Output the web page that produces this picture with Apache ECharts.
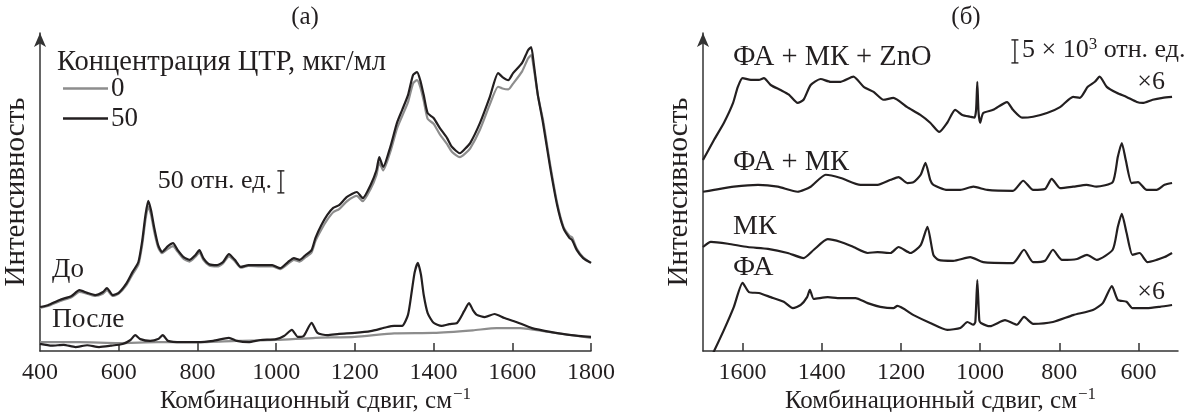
<!DOCTYPE html>
<html>
<head>
<meta charset="utf-8">
<script src="https://cdn.jsdelivr.net/npm/echarts@6/dist/echarts.min.js"></script>
<style>
html,body{margin:0;padding:0;background:#fff;}
#chart{width:1192px;height:412px;}
</style>
</head>
<body>
<div id="chart"></div>
<script>
// ---------- Panel (а): Raman spectra, before/after, CTR concentration 0 and 50 µg/ml ----------
const leftTickLabels = [400, 600, 800, 1000, 1200, 1400, 1600, 1800];

const beforeWn = [400,420,450,480,500,520,540,560,570,585,600,620,635,650,660,668,675,682,690,700,710,725,738,750,765,780,795,805,815,830,850,865,880,895,910,930,960,990,1010,1030,1045,1060,1075,1090,1100,1115,1130,1145,1160,1180,1205,1220,1240,1255,1262,1272,1290,1307,1320,1335,1348,1358,1366,1375,1385,1400,1416,1434,1447,1467,1480,1493,1518,1543,1564,1575,1590,1602,1625,1640,1648,1655,1665,1678,1696,1714,1730,1745,1752,1764,1780,1800];
const before50 = [100,104,116,125,138,132,127,134,143,127,132,154,179,202,252,309,341,320,281,241,225,238,245,229,213,207,218,229,211,197,195,202,220,207,191,195,195,195,188,202,211,207,218,229,257,286,309,325,331,350,361,347,377,411,440,418,463,518,547,581,627,633,615,581,540,529,506,484,463,449,459,472,518,577,631,622,615,631,654,683,690,649,581,518,418,331,279,257,252,229,211,200];
const before0 = [98,102,113,122,134,130,125,130,138,125,130,150,174,196,243,298,328,310,272,236,222,232,238,225,209,203,214,224,207,194,192,199,215,204,189,193,192,192,186,198,207,203,213,224,250,276,298,315,322,340,352,340,368,400,428,410,452,505,533,565,608,615,600,568,527,516,492,470,452,440,448,460,503,560,600,596,594,607,635,664,672,640,580,525,425,336,282,262,258,232,213,200];

const after50Wn = [400,430,460,490,520,550,580,610,630,642,655,680,700,712,725,760,800,840,880,900,930,960,1000,1020,1040,1055,1070,1090,1105,1130,1160,1200,1240,1280,1300,1320,1335,1345,1352,1360,1368,1375,1385,1400,1420,1440,1460,1478,1490,1500,1510,1530,1555,1580,1610,1650,1700,1750,1800];
const after50 = [16,12,14,9,13,9,12,16,25,36,27,23,27,36,23,20,20,23,30,23,20,25,27,34,48,32,34,64,41,36,39,41,45,54,57,57,82,138,179,200,173,127,86,64,57,61,64,91,109,93,82,77,84,75,66,52,43,36,32];

const after0Wn = [400,500,600,700,800,900,1000,1100,1200,1300,1400,1500,1560,1620,1700,1800];
const after0 = [20,20,18,20,20,23,25,30,32,40,41,47,52,52,42,30];

// ---------- Panel (б): spectra in 10^3 rel. units ----------
const rightTickLabels = [600, 800, 1000, 1200, 1400, 1600];

const znoWn = [1700,1672,1647,1624,1612,1600,1579,1559,1546,1529,1504,1483,1461,1446,1428,1403,1378,1352,1320,1294,1269,1244,1219,1184,1151,1126,1103,1083,1063,1045,1025,1014,1010,1007,1004,1000,992,967,932,917,894,866,831,798,765,748,728,710,698,680,655,630,604,589,564,539,515];
const znoVals = [41.5,45.9,49.6,53.9,57.4,59.3,58.9,58.9,59.3,57.8,56.7,55.7,53.9,54.6,57.8,59.1,58.5,58.5,59.6,57.4,56.3,54.6,55.0,53.0,51.3,49.6,47.6,49.6,52.4,51.3,50.9,50.7,52.5,58.5,52.0,49.6,51.7,52.4,54.1,52.4,50.7,50.9,51.7,53.0,55.2,55.0,57.4,58.5,59.6,57.4,56.1,55.2,54.1,53.9,54.6,55.0,55.2];

const famkWn = [1700,1672,1622,1561,1511,1461,1428,1390,1352,1302,1259,1226,1206,1184,1168,1150,1138,1126,1118,1083,1050,1017,982,917,891,866,836,819,798,765,731,706,665,652,642,632,617,601,579,554,534,515];
const famkVals = [34.6,35.0,35.7,36.1,35.7,34.6,35.7,38.3,37.6,36.1,36.1,37.2,37.8,36.5,36.7,38.3,40.9,37.2,36.1,35.0,35.0,35.7,35.0,34.8,37.0,35.0,35.2,37.4,35.4,35.7,36.1,35.7,36.7,42.2,45.2,41.5,36.5,36.7,35.0,35.0,36.1,36.5];

const mkWn = [1700,1680,1637,1587,1536,1486,1446,1420,1385,1352,1320,1284,1259,1226,1206,1176,1150,1133,1118,1105,1068,1025,992,917,889,866,836,816,793,755,730,705,665,652,642,630,615,597,577,554,534,515];
const mkVals = [22.6,23.7,23.3,22.6,22.2,21.3,20.2,22.0,24.3,23.7,22.6,21.3,21.5,21.3,22.6,21.3,23.0,27.0,20.9,19.8,19.6,20.4,19.3,19.1,22.0,19.3,19.6,22.0,19.8,20.0,20.9,19.8,22.0,27.0,29.8,25.7,20.9,21.3,19.3,19.8,20.4,21.3];

const faWn = [1700,1672,1647,1622,1600,1584,1559,1529,1496,1473,1453,1437,1430,1420,1385,1360,1315,1284,1252,1219,1209,1168,1126,1083,1050,1032,1017,1012,1007,1002,998,975,937,907,889,866,816,765,715,690,667,652,630,615,579,546,515];
const faVals = [-5.0,0.0,4.6,9.6,14.8,12.8,12.6,11.7,10.7,9.3,10.0,11.7,13.3,11.3,11.7,11.5,11.5,10.4,9.6,9.3,9.8,7.8,6.1,4.6,5.0,6.3,5.7,6.3,15.4,6.7,6.1,5.4,6.7,5.7,7.4,5.9,6.3,7.8,8.9,10.4,14.1,11.1,10.7,9.3,9.3,9.6,10.0];

// ---------- helpers ----------
const FONT = 'Liberation Serif';
const INK = '#231f20';
const GREY = '#8d8d8d';
const zip = (xs, ys) => xs.map((x, i) => [x, ys[i]]);

function lineSeries(name, xi, wn, vals, color, z) {
  return {
    name: name, type: 'line', xAxisIndex: xi, yAxisIndex: xi,
    data: zip(wn, vals), symbol: 'none', smooth: 0.2, clip: true,
    color: color, lineStyle: { color: color, width: 2.2 }, z: z, silent: true
  };
}

function scaleBar(xi, x, y0, y1) {
  return {
    type: 'custom', xAxisIndex: xi, yAxisIndex: xi, silent: true, z: 5,
    data: [[x, y0, y1]],
    renderItem: function (params, api) {
      const a = api.coord([api.value(0), api.value(1)]);
      const b = api.coord([api.value(0), api.value(2)]);
      const c = 3.5;
      const st = { stroke: INK, lineWidth: 1.4 };
      return { type: 'group', children: [
        { type: 'line', shape: { x1: a[0], y1: a[1], x2: b[0], y2: b[1] }, style: st },
        { type: 'line', shape: { x1: a[0] - c, y1: a[1], x2: a[0] + c, y2: a[1] }, style: st },
        { type: 'line', shape: { x1: b[0] - c, y1: b[1], x2: b[0] + c, y2: b[1] }, style: st }
      ]};
    }
  };
}

function xAxisCfg(gi, min, max, inverse, labels, ticks) {
  return {
    gridIndex: gi, type: 'value', min: min, max: max, inverse: inverse, interval: 200,
    axisLine: { show: true, onZero: false, lineStyle: { color: '#333', width: 1.5 } },
    axisTick: { show: true, inside: true, length: 8, lineStyle: { color: '#333', width: 1.5 }, customValues: ticks },
    axisLabel: { show: true, margin: 10, fontSize: 24, fontFamily: FONT, color: INK, customValues: labels,
                 formatter: v => String(v) },
    splitLine: { show: false },
    name: '{a|Комбинационный сдвиг, см}{s|−1}',
    nameLocation: 'middle', nameGap: 35, nameMoveOverlap: false,
    nameTextStyle: { color: INK, fontFamily: FONT, rich: {
      a: { fontSize: 25, fontFamily: FONT, color: INK, verticalAlign: 'bottom' },
      s: { fontSize: 17, fontFamily: FONT, color: INK, verticalAlign: 'bottom', padding: [0, 0, 11, 1] }
    } }
  };
}

function yAxisCfg(gi, max) {
  return {
    gridIndex: gi, type: 'value', min: 0, max: max,
    axisLine: { show: true, symbol: ['none', 'arrow'], symbolSize: [9, 14], lineStyle: { color: '#333', width: 1.5 } },
    axisTick: { show: false }, axisLabel: { show: false }, splitLine: { show: false },
    name: 'Интенсивность', nameLocation: 'middle', nameGap: 9, nameMoveOverlap: false,
    nameTextStyle: { fontSize: 29, fontFamily: FONT, color: INK }
  };
}

function txt(x, y, text, size, align, rich) {
  const st = { text: text, x: 0, y: 0, fontSize: size, fontFamily: FONT, fill: INK, align: align || 'left', verticalAlign: 'middle' };
  if (rich) st.rich = rich;
  return { type: 'text', x: x, y: y, style: st, silent: true };
}

const option = {
  animation: false,
  backgroundColor: '#ffffff',
  textStyle: { fontFamily: FONT },
  grid: [
    { left: 40, top: 33, width: 551, height: 318, containLabel: false, outerBoundsMode: 'none' },
    { left: 703, top: 33, width: 475, height: 318, containLabel: false, outerBoundsMode: 'none' }
  ],
  xAxis: [
    xAxisCfg(0, 400, 1800, false, leftTickLabels, leftTickLabels.filter(v => v > 400)),
    xAxisCfg(1, 500, 1700, true, rightTickLabels, rightTickLabels)
  ],
  yAxis: [ yAxisCfg(0, 722), yAxisCfg(1, 69.1) ],
  legend: {
    data: ['0', '50'], orient: 'vertical', left: 58, top: 70,
    icon: 'rect', itemWidth: 45, itemHeight: 2.5, itemGap: 3, selectedMode: false,
    textStyle: { fontSize: 27, fontFamily: FONT, color: INK, padding: [0, 0, 0, -2], lineHeight: 26 }
  },
  series: [
    lineSeries('0', 0, beforeWn, before0, GREY, 2),
    lineSeries('0', 0, after0Wn, after0, GREY, 2),
    lineSeries('50', 0, beforeWn, before50, INK, 3),
    lineSeries('50', 0, after50Wn, after50, INK, 3),
    lineSeries('ФА + МК + ZnO', 1, znoWn, znoVals, INK, 3),
    lineSeries('ФА + МК', 1, famkWn, famkVals, INK, 3),
    lineSeries('МК', 1, mkWn, mkVals, INK, 3),
    lineSeries('ФА', 1, faWn, faVals, INK, 3),
    scaleBar(0, 1012, 359, 409),
    scaleBar(1, 912, 62.6, 67.6)
  ],
  graphic: [
    txt(305, 17, '(а)', 25, 'center'),
    txt(57, 63, 'Концентрация ЦТР, мкг/мл', 28.5),
    txt(272, 181, '50 отн. ед.', 26, 'right'),
    txt(52, 270, 'До', 27),
    txt(52, 320, 'После', 27.5),
    txt(966, 17, '(б)', 25, 'center'),
    txt(733, 58, 'ФА + МК + ZnO', 28.5),
    txt(1022, 50, '{a|5 × 10}{s|3}{a| отн. ед.}', 26, 'left', {
      a: { fontSize: 26, fontFamily: FONT, fill: INK, verticalAlign: 'bottom' },
      s: { fontSize: 17, fontFamily: FONT, fill: INK, verticalAlign: 'bottom', padding: [0, 0, 10, 0] }
    }),
    txt(1165, 82, '×6', 26, 'right'),
    txt(733, 163, 'ФА + МК', 28.5),
    txt(733, 227, 'МК', 28),
    txt(733, 268, 'ФА', 28),
    txt(1165, 292, '×6', 26, 'right')
  ]
};

const chart = echarts.init(document.getElementById('chart'), null, { renderer: 'canvas' });
chart.setOption(option);
</script>
</body>
</html>
